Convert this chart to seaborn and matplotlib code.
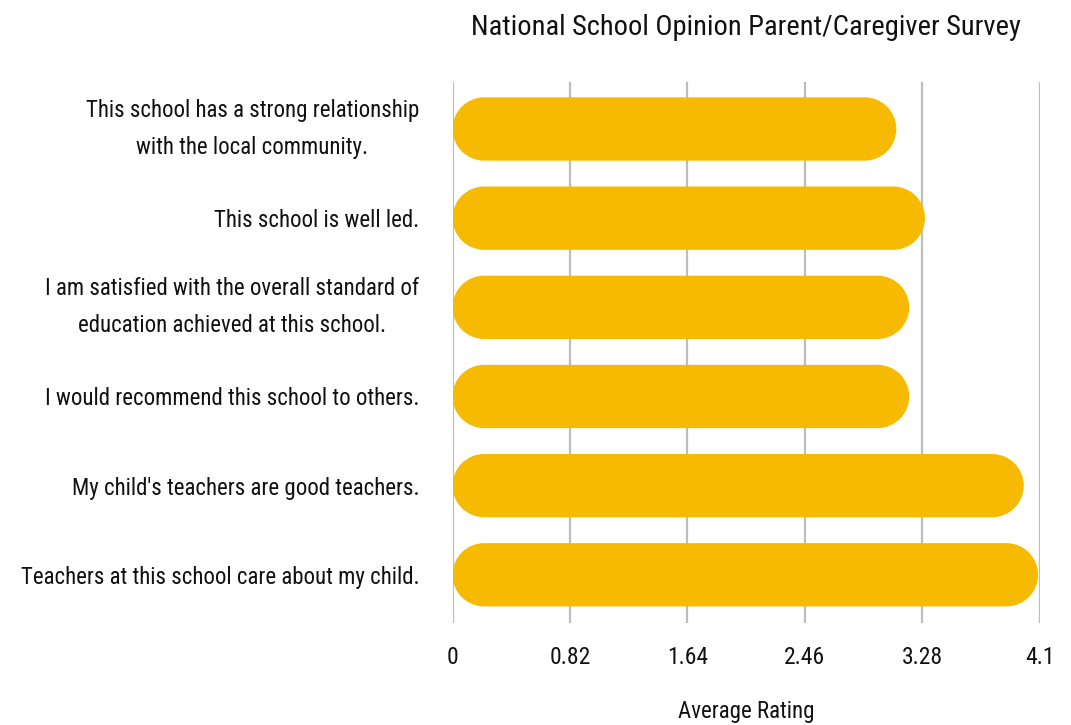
import matplotlib
matplotlib.use("Agg")
import matplotlib.pyplot as plt
from matplotlib import font_manager
from matplotlib.patches import PathPatch
from matplotlib.path import Path
from matplotlib.transforms import offset_copy
import numpy as np
import seaborn as sns
import pandas as pd

statements = [
    "This school has a strong relationship\nwith the local community.",
    "This school is well led.",
    "I am satisfied with the overall standard of\neducation achieved at this school.",
    "I would recommend this school to others.",
    "My child's teachers are good teachers.",
    "Teachers at this school care about my child.",
]
ratings = [3.10, 3.30, 3.19, 3.19, 3.99, 4.09]
tick_values = [0, 0.82, 1.64, 2.46, 3.28, 4.1]
tick_labels = ["0", "0.82", "1.64", "2.46", "3.28", "4.1"]

BAR_COLOR = "#F6BA00"
GRID_COLOR = "#BDBDBD"
TEXT_COLOR = "#111111"

sns.set_theme(style="white")

# pick a narrow sans family if one is installed
installed = {f.name for f in font_manager.fontManager.ttflist}
family = "DejaVu Sans"
for cand in ["Roboto Condensed", "Liberation Sans Narrow", "Open Sans Condensed", "DejaVu Sans"]:
    if cand in installed:
        family = cand
        break
plt.rcParams["font.family"] = [family, "DejaVu Sans"]
if family == "DejaVu Sans":
    plt.rcParams["font.stretch"] = "condensed"

df = pd.DataFrame({"statement": statements, "rating": ratings})

W, H = 1071, 725
fig = plt.figure(figsize=(W / 100, H / 100), dpi=100)
left, right, top, bottom = 452.5, 1039.5, 82, 622.5
ax = fig.add_axes([left / W, 1 - bottom / H, (right - left) / W, (bottom - top) / H])

sns.barplot(data=df, x="rating", y="statement", orient="h", color=BAR_COLOR,
            width=0.71, saturation=1, ax=ax, zorder=3)

ax.set_xlim(0, 4.1)
ax.set_ylim(5.535, -0.527)


def capsule(x0, x1, yc, h, rx):
    """Closed path of a bar with semicircular ends (rx in x units, h in y units)."""
    ry = h / 2
    right_arc = Path.arc(-90, 90)
    left_arc = Path.arc(90, 270)
    rv = right_arc.vertices * [rx, ry] + [x1 - rx, yc]
    lv = left_arc.vertices * [rx, ry] + [x0 + rx, yc]
    lc = left_arc.codes.copy()
    lc[0] = Path.LINETO
    verts = np.vstack([rv, lv, rv[:1]])
    codes = np.concatenate([right_arc.codes, lc, [Path.CLOSEPOLY]])
    return Path(verts, codes)


# turn each bar into a capsule with fully rounded ends
fig.canvas.draw()
px_x = ax.transData.transform((1, 0))[0] - ax.transData.transform((0, 0))[0]
px_y = abs(ax.transData.transform((0, 1))[1] - ax.transData.transform((0, 0))[1])
for bar in list(ax.patches):
    x0, y0 = bar.get_x(), bar.get_y()
    w, h = bar.get_width(), bar.get_height()
    rx = (h * px_y / 2) / px_x
    path = capsule(x0, x0 + w, y0 + h / 2, h, rx)
    ax.add_patch(PathPatch(path, facecolor=BAR_COLOR, edgecolor="none", zorder=3))
    bar.remove()

ax.set_xticks(tick_values)
ax.set_xticklabels(tick_labels)
ax.grid(axis="x", color=GRID_COLOR, linewidth=1.6, zorder=0)
ax.grid(axis="y", visible=False)
for s in ax.spines.values():
    s.set_visible(False)
ax.tick_params(axis="both", length=0)
ax.tick_params(axis="x", pad=17, labelsize=17, labelcolor=TEXT_COLOR)
ax.tick_params(axis="y", pad=24, labelsize=16.5, labelcolor=TEXT_COLOR)
for lbl in ax.get_yticklabels():
    lbl.set_multialignment("center")
    if "\n" in lbl.get_text():
        lbl.set_linespacing(1.78)
        # centre the two-line statements on their bars
        lbl.set_transform(offset_copy(lbl.get_transform(), fig=fig, x=0, y=9.5, units="dots"))

ax.set_ylabel("")
ax.set_xlabel("Average Rating", fontsize=16.5, labelpad=22, color=TEXT_COLOR)
ax.set_title("National School Opinion Parent/Caregiver Survey",
             fontsize=20.5, pad=34, color=TEXT_COLOR)

fig.savefig("out.png", dpi=100)
